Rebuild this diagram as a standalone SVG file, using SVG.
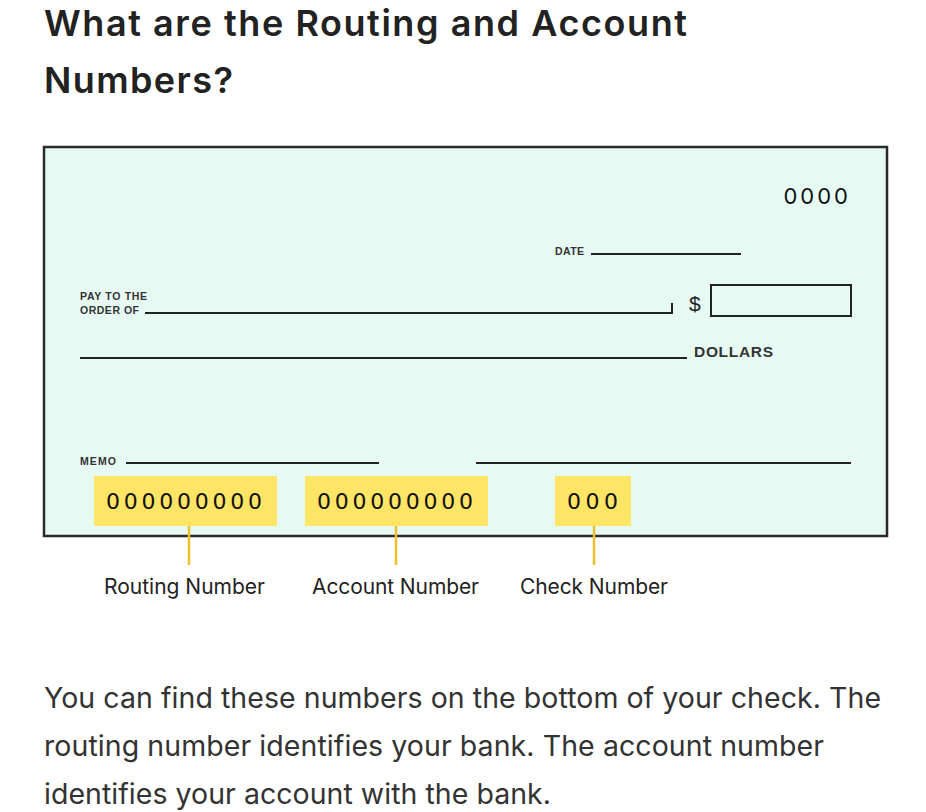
<svg xmlns="http://www.w3.org/2000/svg" width="926" height="812" viewBox="0 0 926 812">
<style>
.title{font-family:Inter,"Liberation Sans",sans-serif;font-weight:600;font-size:36px;fill:#222}
.para{font-family:Inter,"Liberation Sans",sans-serif;font-size:28.5px;fill:#333}
.lab{font-family:Inter,"Liberation Sans",sans-serif;font-size:21px;fill:#222}
.sm{font-family:"Liberation Sans",Arial,sans-serif;font-weight:bold;font-size:10.5px;fill:#333}
.md{font-family:"Liberation Sans",Arial,sans-serif;font-weight:bold;font-size:15.5px;fill:#333}
.num{font-family:"DejaVu Sans",sans-serif;font-size:22px;fill:#111}
.ln{stroke:#222;stroke-width:2;fill:none}
.hl{fill:#ffe566}
.conn{stroke:#ecc02a;stroke-width:2.5}
</style>
<rect width="926" height="812" fill="#fff"/>
<text class="title" x="44" y="35.5" textLength="643" lengthAdjust="spacing">What are the Routing and Account</text>
<text class="title" x="44" y="92.5" textLength="189" lengthAdjust="spacing">Numbers?</text>
<g id="check">
<rect x="44" y="147" width="843" height="389" fill="#e6f9f3" stroke="#2a2a2a" stroke-width="2.5"/>
<text x="851" y="204" text-anchor="end" font-family="Inter,'Liberation Sans',sans-serif" font-size="22" letter-spacing="3" fill="#111">0000</text>
<text class="sm" x="555" y="255" textLength="29" lengthAdjust="spacing">DATE</text>
<line class="ln" x1="591" y1="254" x2="741" y2="254"/>
<text class="sm" x="80" y="300" textLength="67" lengthAdjust="spacing">PAY TO THE</text>
<text class="sm" x="80" y="314" textLength="59" lengthAdjust="spacing">ORDER OF</text>
<polyline class="ln" points="145,313 672,313 672,303"/>
<text x="689" y="311" font-family="'Liberation Sans',Arial,sans-serif" font-size="21" fill="#222">$</text>
<rect x="711" y="285" width="140" height="31" fill="none" stroke="#222" stroke-width="2"/>
<line class="ln" x1="80" y1="358" x2="687" y2="358"/>
<text class="md" x="694" y="357" textLength="79" lengthAdjust="spacing">DOLLARS</text>
<text class="sm" x="80" y="465" textLength="36" lengthAdjust="spacing">MEMO</text>
<line class="ln" x1="126" y1="463" x2="379" y2="463"/>
<line class="ln" x1="476" y1="463" x2="851" y2="463"/>
</g>
<g id="routing">
<rect class="hl" x="94" y="476" width="183" height="50"/>
<text class="num" x="106" y="509" textLength="156" lengthAdjust="spacing">000000000</text>
</g>
<g id="account">
<rect class="hl" x="305" y="476" width="183" height="50"/>
<text class="num" x="317" y="509" textLength="156" lengthAdjust="spacing">000000000</text>
</g>
<g id="checknum">
<rect class="hl" x="555" y="476" width="76" height="50"/>
<text class="num" x="567" y="509" textLength="51" lengthAdjust="spacing">000</text>
</g>
<g id="connectors">
<line class="conn" x1="189" y1="526" x2="189" y2="565"/>
<line class="conn" x1="396" y1="526" x2="396" y2="565"/>
<line class="conn" x1="594" y1="526" x2="594" y2="565"/>
</g>
<g id="labels">
<text class="lab" x="104" y="594" textLength="161" lengthAdjust="spacing">Routing Number</text>
<text class="lab" x="312" y="594" textLength="167" lengthAdjust="spacing">Account Number</text>
<text class="lab" x="520" y="594" textLength="148" lengthAdjust="spacing">Check Number</text>
</g>
<text class="para" x="44" y="708" textLength="837" lengthAdjust="spacing">You can find these numbers on the bottom of your check. The</text>
<text class="para" x="44" y="756" textLength="780" lengthAdjust="spacing">routing number identifies your bank. The account number</text>
<text class="para" x="44" y="804" textLength="507" lengthAdjust="spacing">identifies your account with the bank.</text>
</svg>
